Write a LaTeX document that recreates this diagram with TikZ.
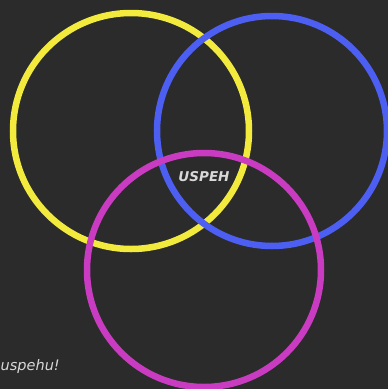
\documentclass[tikz,border=0pt]{standalone}
\usepackage{fontspec}
\setsansfont{DejaVu Sans}
\definecolor{bgdark}{HTML}{2B2B2B}
\definecolor{ringyellow}{HTML}{F2EA3C}
\definecolor{ringblue}{HTML}{4C5FF2}
\definecolor{ringpink}{HTML}{C93BC1}
\definecolor{labelgray}{HTML}{D8D8D8}
\tikzset{
  ring/.style={line width=6.5pt},
  lbl/.style={text=labelgray, font=\sffamily\itshape, inner sep=0pt}
}

\begin{document}
\begin{tikzpicture}[x=1pt, y=-1pt]
  % background, fixes the page size
  \fill[bgdark] (0, 0) rectangle (388, 389);
  \useasboundingbox (0, 0) rectangle (388, 389);
  % the three rings
  \draw[ring, ringyellow] (131, 131) circle (118);
  \draw[ring, ringblue] (272, 131) circle (115);
  \draw[ring, ringpink] (204, 270) circle (117);
  % labels
  \node[lbl, font=\sffamily\bfseries\itshape\fontsize{13.5}{16}\selectfont] (uspeh) at (204, 177) {USPEH};
  \node[lbl, anchor=west, font=\sffamily\itshape\fontsize{14.5}{17}\selectfont] (uspehu) at (0.5, 366) {uspehu!};
\end{tikzpicture}
\end{document}
